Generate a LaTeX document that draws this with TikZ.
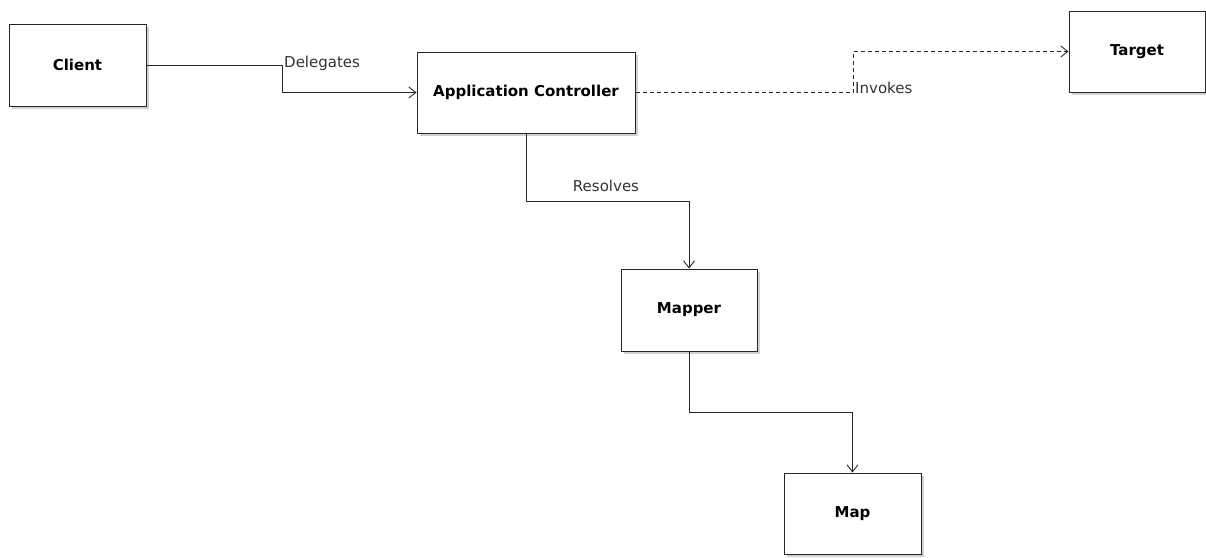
\documentclass[tikz,border=0pt]{standalone}
\usepackage{fontspec}
\setmainfont{DejaVu Sans}
\usetikzlibrary{arrows.meta,shadows}
\begin{document}
\begin{tikzpicture}[x=1pt,y=-1pt,
  box/.style={draw=black!85, line width=1pt, fill=white, rectangle,
    inner sep=0pt, font=\fontsize{15}{17}\selectfont\bfseries,
    drop shadow={shadow xshift=3pt, shadow yshift=-3pt, fill=black!18, opacity=1}},
  link/.style={draw=black!85, line width=1pt, -{Straight Barb[length=7pt,width=11pt,line width=0.9pt]}},
  dep/.style={link, dash pattern=on 4.5pt off 2.5pt},
  lbl/.style={font=\fontsize{15}{17}\selectfont, text=black!80, inner sep=1pt}]
  \useasboundingbox (0,0) rectangle (1206,557);
  \fill[white] (0,0) rectangle (1206,557);

  % classes
  \node[box, minimum width=137pt, minimum height=82pt] (client) at (77.5,65) {Client};
  \node[box, minimum width=218pt, minimum height=81pt] (ac) at (526,92.5) {Application Controller};
  \node[box, minimum width=136pt, minimum height=81pt] (target) at (1137,51.5) {Target};
  \node[box, minimum width=136pt, minimum height=82pt] (mapper) at (689,310) {Mapper};
  \node[box, minimum width=137pt, minimum height=81pt] (map) at (852.5,513.5) {Map};

  % bend points
  \coordinate (d1) at (282,65);
  \coordinate (i1) at (853,92.5);
  \coordinate (r1) at (526,201);
  \coordinate (m1) at (689,412);

  % relations
  \draw[link] (client.east) -- (d1) |- (ac.west);
  \node[lbl, anchor=west] (dlabel) at (283,63) {Delegates};

  \draw[dep] (ac.east) -- (i1) |- (target.west);
  \node[lbl, anchor=west] (ilabel) at (854,88) {Invokes};

  \draw[link] (ac.south) -- (r1) -| (mapper.north);
  \node[lbl] (rlabel) at (606,186) {Resolves};

  \draw[link] (mapper.south) -- (m1) -| (map.north);
\end{tikzpicture}
\end{document}
